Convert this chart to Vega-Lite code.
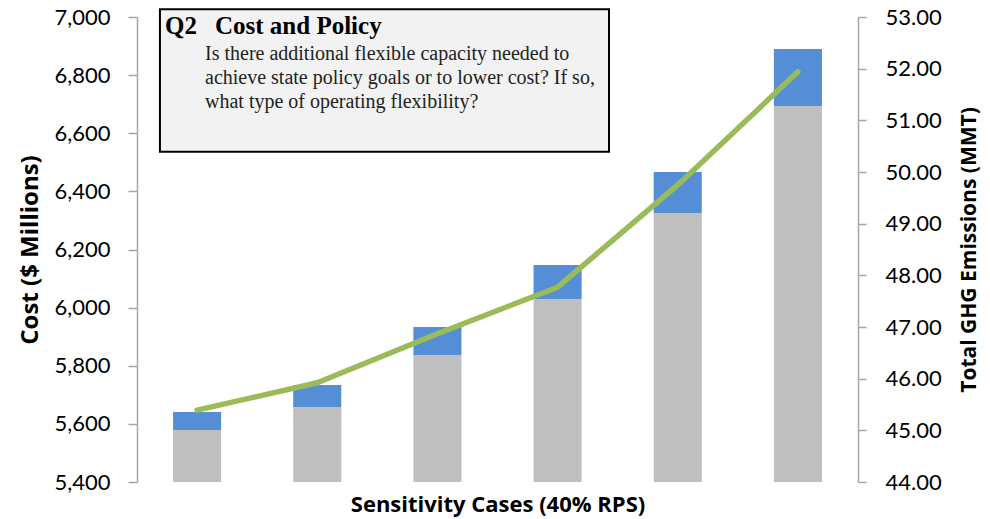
{
  "$schema": "https://vega.github.io/schema/vega-lite/v6.json",
  "autosize": "none",
  "width": 721,
  "height": 465,
  "padding": {"left": 137, "top": 17, "right": 132, "bottom": 37},
  "background": "white",
  "config": {
    "view": {"stroke": null},
    "axis": {
      "grid": false,
      "domainColor": "#A6A6A6",
      "domainWidth": 1.5,
      "tickColor": "#A6A6A6",
      "tickWidth": 1.5,
      "labelColor": "#000000",
      "titleColor": "#000000",
      "labelFont": "Lato",
      "titleFont": "Open Sans"
    }
  },
  "data": {
    "values": [
      {"case": "Case 1", "base": 5579, "total": 5641, "ghg": 45.39},
      {"case": "Case 2", "base": 5658, "total": 5734, "ghg": 45.92},
      {"case": "Case 3", "base": 5837, "total": 5933, "ghg": 46.87},
      {"case": "Case 4", "base": 6030, "total": 6147, "ghg": 47.77},
      {"case": "Case 5", "base": 6326, "total": 6467, "ghg": 49.75},
      {"case": "Case 6", "base": 6694, "total": 6890, "ghg": 51.94}
    ]
  },
  "layer": [
    {
      "layer": [
        {
          "mark": {"type": "bar", "color": "#BFBFBF"},
          "encoding": {
            "x": {
              "field": "case", "type": "nominal",
              "scale": {"paddingInner": 0.6, "paddingOuter": 0.3},
              "axis": {"labels": false, "ticks": false, "domain": false, "title": "Sensitivity Cases (40% RPS)", "titleFontSize": 22, "titleFontWeight": "bold", "titlePadding": 12}
            },
            "y": {
              "field": "base", "type": "quantitative",
              "scale": {"domain": [5400, 7000], "nice": false, "zero": false},
              "axis": {
                "values": [5400, 5600, 5800, 6000, 6200, 6400, 6600, 6800, 7000],
                "format": ",d",
                "labelFontSize": 22,
                "tickSize": 9,
                "labelPadding": 18,
                "title": "Cost ($ Millions)",
                "titleFontSize": 24,
                "titleFontWeight": "bold",
                "titlePadding": 11
              }
            },
            "y2": {"datum": 5400}
          }
        },
        {
          "mark": {"type": "bar", "color": "#558ED5"},
          "encoding": {
            "x": {"field": "case", "type": "nominal"},
            "y": {"field": "total", "type": "quantitative"},
            "y2": {"field": "base"}
          }
        }
      ]
    },
    {
      "mark": {"type": "line", "color": "#9BBB59", "strokeWidth": 5.5, "strokeCap": "round", "strokeJoin": "round"},
      "encoding": {
        "x": {
          "field": "case", "type": "nominal",
          "scale": {"paddingInner": 0.6, "paddingOuter": 0.3},
          "axis": null
        },
        "y": {
          "field": "ghg", "type": "quantitative",
          "scale": {"domain": [44, 53], "nice": false, "zero": false},
          "axis": {
            "orient": "right",
            "values": [44, 45, 46, 47, 48, 49, 50, 51, 52, 53],
            "format": ".2f",
            "labelFontSize": 22,
            "tickSize": 8,
            "labelPadding": 19,
            "title": "Total GHG Emissions (MMT)",
            "titleAngle": 270,
            "titleFontSize": 21,
            "titleFontWeight": "bold",
            "titlePadding": 38
          }
        }
      }
    },
    {
      "data": {
        "values": [
          {"q": "Q2", "heading": "Cost and Policy", "body": "Is there additional flexible capacity needed to\nachieve state policy goals or to lower cost? If so,\nwhat type of operating flexibility?"}
        ]
      },
      "layer": [
        {
          "mark": {"type": "rect", "fill": "#F2F2F2", "stroke": "#000000", "strokeWidth": 2},
          "encoding": {
            "x": {"datum": 0.191, "type": "quantitative", "scale": {"domain": [0, 6], "nice": false}, "axis": null},
            "x2": {"datum": 3.928},
            "y": {"datum": 7027, "type": "quantitative", "scale": {"domain": [5400, 7000], "nice": false, "zero": false}, "axis": null},
            "y2": {"datum": 6536}
          }
        },
        {
          "mark": {"type": "text", "font": "Liberation Serif", "fontSize": 25, "fontWeight": "bold", "align": "left", "baseline": "alphabetic", "color": "#000000"},
          "encoding": {
            "x": {"datum": 0.233, "type": "quantitative"},
            "y": {"datum": 6941, "type": "quantitative"},
            "text": {"field": "q"}
          }
        },
        {
          "mark": {"type": "text", "font": "Liberation Serif", "fontSize": 25, "fontWeight": "bold", "align": "left", "baseline": "alphabetic", "color": "#000000"},
          "encoding": {
            "x": {"datum": 0.649, "type": "quantitative"},
            "y": {"datum": 6941, "type": "quantitative"},
            "text": {"field": "heading"}
          }
        },
        {
          "mark": {"type": "text", "font": "Liberation Serif", "fontSize": 20, "align": "left", "baseline": "alphabetic", "lineBreak": "\n", "lineHeight": 24, "color": "#222222"},
          "encoding": {
            "x": {"datum": 0.566, "type": "quantitative"},
            "y": {"datum": 6852, "type": "quantitative"},
            "text": {"field": "body"}
          }
        }
      ]
    }
  ],
  "resolve": {"scale": {"x": "independent", "y": "independent"}}
}
